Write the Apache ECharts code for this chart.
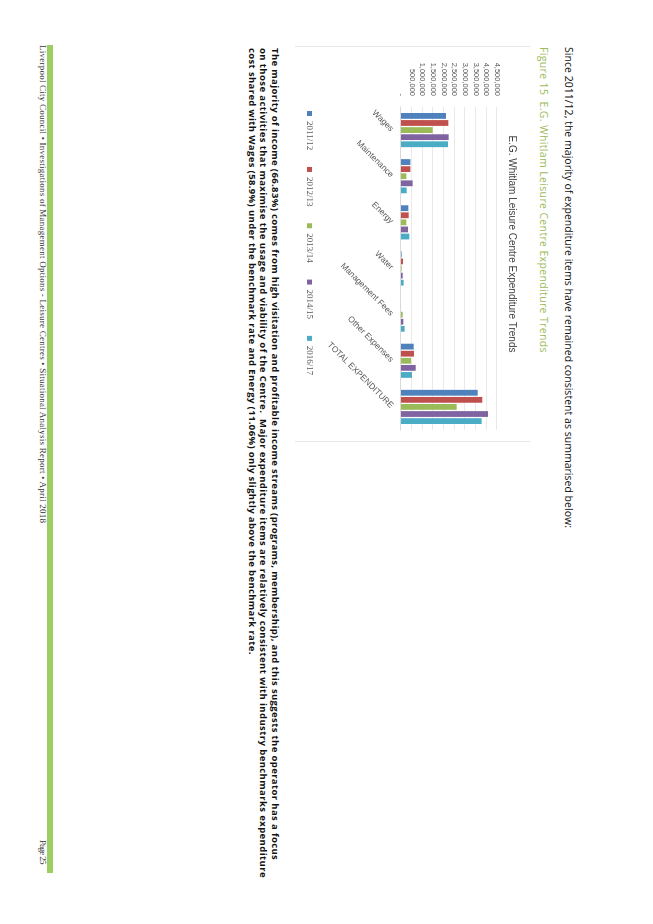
<!DOCTYPE html>
<html>
<head>
<meta charset="utf-8">
<script src="https://cdn.jsdelivr.net/npm/echarts@6/dist/echarts.min.js"></script>
<style>
html,body{margin:0;padding:0;background:#fff;width:653px;height:924px;overflow:hidden;}
#page{position:absolute;left:0;top:0;width:924px;height:653px;transform-origin:0 0;transform:translate(653px,0) rotate(90deg);}
.t{position:absolute;white-space:nowrap;display:inline-block;}
</style>
</head>
<body>
<div id="page">
  <div class="t" data-w="481" style="left:47px;top:77px;line-height:14px;font:10.5px 'Open Sans',sans-serif;color:#111;">Since 2011/12, the majority of expenditure items have remained consistent as summarised below:</div>
  <div class="t" data-w="306" style="left:47px;top:102px;line-height:14px;font:10.5px 'Open Sans',sans-serif;color:#9BBB59;">Figure 15&nbsp; E.G. Whitlam Leisure Centre Expenditure Trends</div>
  <div style="position:absolute;left:46px;top:123px;width:1px;height:235px;background:#e6e6e6;"></div>
  <div style="position:absolute;left:441px;top:123px;width:1px;height:235px;background:#e6e6e6;"></div>
  <div id="chart" style="position:absolute;left:46px;top:123px;width:396px;height:235px;"></div>
  <div class="t" data-w="812" style="left:48px;top:371px;line-height:14px;font:bold 9.5px 'Open Sans',sans-serif;color:#111;">The majority of income (66.83%) comes from high visitation and profitable income streams (programs, membership), and this suggests the operator has a focus</div>
  <div class="t" data-w="830" style="left:48px;top:383px;line-height:14px;font:bold 9.5px 'Open Sans',sans-serif;color:#111;">on those activities that maximise the usage and viability of the Centre.&nbsp; Major expenditure items are relatively consistent with industry benchmarks expenditure</div>
  <div class="t" data-w="607" style="left:48px;top:394px;line-height:14px;font:bold 9.5px 'Open Sans',sans-serif;color:#111;">cost shared with Wages (58.9%) under the benchmark rate and Energy (11.06%) only slightly above the benchmark rate.</div>
  <div style="position:absolute;left:45px;top:600px;width:828px;height:6px;background:#9CCF62;"></div>
  <div class="t" data-w="478" style="left:45px;top:605px;line-height:14px;font:9px 'Liberation Serif',serif;color:#333;">Liverpool City Council • Investigations of Management Options - Leisure Centres • Situational Analysis Report • April 2018</div>
  <div class="t" data-w="24" style="left:840px;top:605px;line-height:14px;font:9px 'Liberation Serif',serif;color:#333;">Page 25</div>
</div>
<script>
const categories = ['Wages','Maintenance','Energy','Water','Management Fees','Other Expenses','TOTAL EXPENDITURE'];
const years = ['2011/12','2012/13','2013/14','2014/15','2016/17'];
const s2011_12 = [2110000, 440000, 345000, 30000, 0, 595000, 3595000];
const s2012_13 = [2220000, 440000, 360000, 95000, 0, 610000, 3810000];
const s2013_14 = [1485000, 250000, 250000, 30000, 80000, 470000, 2610000];
const s2014_15 = [2235000, 545000, 330000, 80000, 110000, 690000, 4080000];
const s2016_17 = [2205000, 265000, 390000, 125000, 170000, 515000, 3780000];
const seriesValues = [s2011_12, s2012_13, s2013_14, s2014_15, s2016_17];
const colors = ['#4F81BD','#C0504D','#9BBB59','#8064A2','#4BACC6'];
const chartTitle = 'E.G. Whitlam Leisure Centre Expenditure Trends';

document.querySelectorAll('[data-w]').forEach(el => {
  const target = +el.dataset.w;
  const w = el.offsetWidth;
  const n = el.textContent.length;
  el.style.letterSpacing = ((target - w) / n) + 'px';
});

const chart = echarts.init(document.getElementById('chart'), null, {renderer:'canvas'});
chart.setOption({
  animation: false,
  color: colors,
  title: {
    text: chartTitle, left: 'center', top: 8,
    textStyle: {fontSize: 10, fontWeight: 'normal', color: '#404040', fontFamily: 'Liberation Sans'}
  },
  legend: {
    data: years, left: 60, top: 211, icon: 'rect', itemWidth: 5, itemHeight: 5, itemGap: 16.8,
    textStyle: {fontSize: 9, color: '#595959', fontFamily: 'Liberation Serif'}
  },
  grid: {left: 61, right: 12, top: 33, bottom: 106},
  xAxis: {
    type: 'category', data: categories,
    axisLine: {lineStyle: {color: '#d9d9d9'}},
    axisTick: {show: false},
    axisLabel: {rotate: 45, interval: 0, fontSize: 8.5, color: '#595959', margin: 9, fontFamily: 'Liberation Sans'}
  },
  yAxis: {
    type: 'value', min: 0, max: 4500000, interval: 500000,
    axisLine: {show: false}, axisTick: {show: false},
    splitLine: {lineStyle: {color: '#e3e3e3', width: 0.8}},
    axisLabel: {
      fontSize: 7.5, color: '#595959', margin: 11, fontFamily: 'Liberation Sans',
      formatter: v => v === 0 ? '-' : v.toLocaleString('en-US')
    }
  },
  series: years.map((y, i) => ({
    name: y, type: 'bar', data: seriesValues[i],
    barGap: '22%', barCategoryGap: '26%'
  }))
});
</script>
</body>
</html>
